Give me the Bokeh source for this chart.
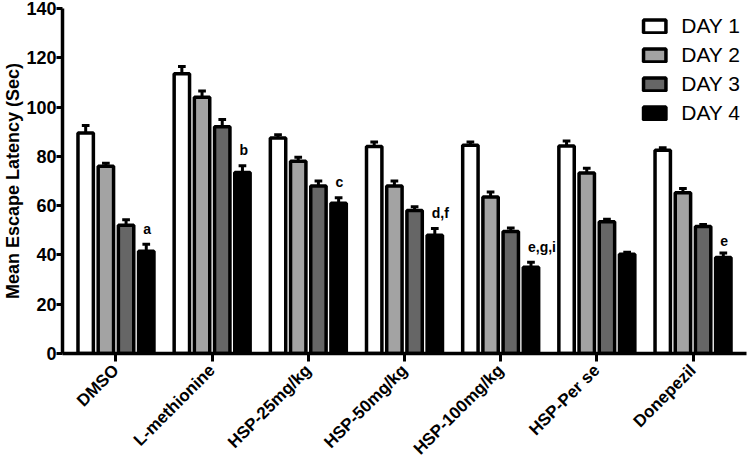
from math import pi
from bokeh.plotting import figure
from bokeh.models import (ColumnDataSource, FactorRange, Range1d, Legend, LegendItem,
                          SingleIntervalTicker)
from bokeh.transform import dodge
from bokeh.core.properties import value
from bokeh.embed import file_html
from bokeh.resources import INLINE

# ---------------- data ----------------
groups = ["DMSO", "L-methionine", "HSP-25mg/kg", "HSP-50mg/kg",
          "HSP-100mg/kg", "HSP-Per se", "Donepezil"]
days = ["DAY 1", "DAY 2", "DAY 3", "DAY 4"]

day1 = [89.5, 113.5, 87.5, 84.0, 84.5, 84.2, 82.5]
day1_err = [3.0, 3.0, 1.3, 1.8, 1.3, 2.0, 1.0]
day2 = [76.0, 104.0, 78.0, 68.0, 63.5, 73.2, 65.2]
day2_err = [1.2, 2.5, 1.6, 2.0, 2.0, 2.0, 1.8]
day3 = [52.0, 92.0, 68.0, 58.0, 49.5, 53.5, 51.5]
day3_err = [2.3, 3.0, 2.0, 1.6, 1.4, 1.0, 0.8]
day4 = [41.5, 73.5, 61.0, 48.0, 35.0, 40.3, 39.0]
day4_err = [2.8, 2.7, 2.2, 2.7, 2.0, 0.8, 1.8]
day4_labels = ["a", "b", "c", "d,f", "e,g,i", "", "e"]

y_ticks_interval = 20
y_max = 140

# ---------------- styling ----------------
colors = ["#ffffff", "#a3a3a3", "#666666", "#000000"]
offsets = [-0.315, -0.105, 0.105, 0.315]
FONT = "Liberation Sans"

p = figure(x_range=FactorRange(*groups, range_padding=0.016),
           y_range=Range1d(0, y_max),
           width=748, height=468,
           output_backend="svg", toolbar_location=None,
           min_border_left=40, min_border_right=2,
           min_border_top=8, min_border_bottom=100)

p.xgrid.visible = False
p.ygrid.visible = False
p.outline_line_color = None
p.background_fill_color = "white"

series = [(day1, day1_err), (day2, day2_err), (day3, day3_err), (day4, day4_err)]
items = []
for i, (vals, errs) in enumerate(series):
    src = ColumnDataSource(dict(group=groups, v=vals, e=errs,
                                up=[a + b for a, b in zip(vals, errs)]))
    r = p.vbar(x=dodge("group", offsets[i], range=p.x_range), top="v", bottom=0,
               width=0.16, source=src, fill_color=colors[i],
               line_color="black", line_width=3.5)
    # error bar (upper half only)
    p.segment(x0=dodge("group", offsets[i], range=p.x_range), y0="v",
              x1=dodge("group", offsets[i], range=p.x_range), y1="up",
              source=src, line_color="black", line_width=3)
    p.segment(x0=dodge("group", offsets[i] - 0.04, range=p.x_range), y0="up",
              x1=dodge("group", offsets[i] + 0.04, range=p.x_range), y1="up",
              source=src, line_color="black", line_width=3)
    items.append(LegendItem(label=days[i], renderers=[r]))

# significance letters above Day 4 bars
ann_src = ColumnDataSource(dict(group=groups, txt=day4_labels,
                                y=[a + b + 3.0 for a, b in zip(day4, day4_err)]))
p.text(x=dodge("group", offsets[3], range=p.x_range), y="y", text="txt",
       source=ann_src, text_align="left", text_baseline="bottom", x_offset=-3,
       text_font=value(FONT), text_font_style="bold", text_font_size="14px",
       text_color="black")

legend = Legend(items=items, location="top_right",
                border_line_color=None, background_fill_alpha=0,
                label_text_font=FONT, label_text_font_size="21px",
                label_text_color="black",
                glyph_width=28, glyph_height=16, label_height=18,
                spacing=5, label_standoff=13, margin=6, padding=0)
p.add_layout(legend)

# axes
p.yaxis.ticker = SingleIntervalTicker(interval=y_ticks_interval, num_minor_ticks=0)
p.yaxis.axis_label = "Mean Escape Latency (Sec)"
p.yaxis.axis_label_text_font = FONT
p.yaxis.axis_label_text_font_style = "bold"
p.yaxis.axis_label_text_font_size = "18px"
p.yaxis.axis_label_standoff = 0
p.yaxis.major_label_text_font = FONT
p.yaxis.major_label_text_font_style = "bold"
p.yaxis.major_label_text_font_size = "18px"
p.yaxis.major_label_standoff = 0
p.yaxis.major_tick_out = 6
p.yaxis.major_tick_in = 0
p.yaxis.minor_tick_line_color = None

p.xaxis.major_label_orientation = pi / 4
p.xaxis.major_label_text_font = FONT
p.xaxis.major_label_text_font_style = "bold"
p.xaxis.major_label_text_font_size = "17px"
p.xaxis.major_label_standoff = 6
p.xaxis.major_tick_out = 8
p.xaxis.major_tick_in = 0

for ax in (p.xaxis, p.yaxis):
    ax.axis_line_width = 3.5
    ax.axis_line_color = "black"
    ax.major_tick_line_width = 3
    ax.major_tick_line_color = "black"
    ax.major_label_text_color = "black"
    ax.axis_label_text_color = "black"

open("out.html", "w").write(file_html(p, INLINE))
